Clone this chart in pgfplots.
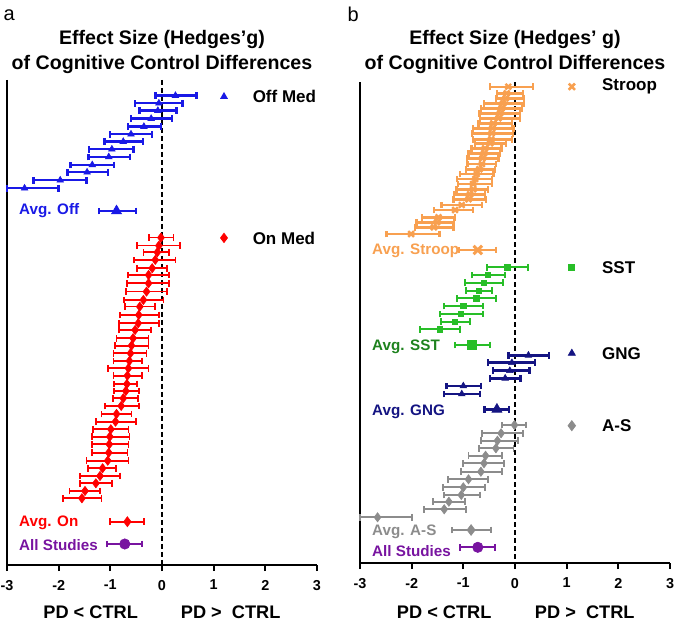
\documentclass[border=0pt]{standalone}
\usepackage{fontspec}
\setmainfont{Liberation Sans}
\usepackage{pgfplots}
\usepackage{pgfplotstable}
\pgfplotsset{compat=1.18}

\definecolor{offblue}{RGB}{25,25,230}
\definecolor{onred}{RGB}{255,0,0}
\definecolor{allpurple}{RGB}{120,20,160}
\definecolor{stroopor}{RGB}{248,160,80}
\definecolor{sstgreen}{RGB}{40,190,40}
\definecolor{sstdark}{RGB}{30,130,30}
\definecolor{gngnavy}{RGB}{20,20,130}
\definecolor{asgrey}{RGB}{140,140,140}

% g = effect size, lo/hi = CI, y = row position (px from top)
\pgfplotstableread{
g lo hi y
0.26 -0.13 0.67 95.7
-0.06 -0.52 0.40 103.3
-0.08 -0.44 0.28 110.7
-0.21 -0.60 0.19 118.7
-0.35 -0.66 -0.02 126.7
-0.60 -1.01 -0.19 134.3
-0.75 -1.11 -0.37 141.7
-0.97 -1.41 -0.55 149.3
-1.03 -1.42 -0.62 157
-1.35 -1.77 -0.93 165
-1.45 -1.83 -1.05 172.3
-1.97 -2.49 -1.46 180.3
-2.66 -3.00 -2.00 188.3
}\offmed
\pgfplotstableread{
g lo hi y
-0.02 -0.25 0.22 237.7
-0.06 -0.49 0.35 245.7
-0.09 -0.36 0.14 252.3
-0.13 -0.54 0.26 260
-0.19 -0.49 0.10 268.3
-0.26 -0.66 0.14 275
-0.26 -0.68 0.14 283.3
-0.30 -0.70 0.10 291.7
-0.36 -0.73 0.03 300
-0.43 -0.71 -0.14 306.7
-0.45 -0.81 -0.06 315
-0.46 -0.83 -0.06 323.3
-0.52 -0.83 -0.21 330
-0.56 -0.88 -0.26 338.3
-0.59 -0.91 -0.26 345.7
-0.61 -0.94 -0.30 353.3
-0.63 -0.94 -0.39 361
-0.65 -1.04 -0.26 368.3
-0.67 -0.94 -0.39 375.7
-0.68 -0.93 -0.49 384
-0.70 -0.93 -0.45 391
-0.75 -0.95 -0.47 398.3
-0.79 -1.10 -0.44 406
-0.88 -1.17 -0.59 414
-0.90 -1.28 -0.51 421.7
-0.99 -1.34 -0.65 429.3
-1.01 -1.36 -0.63 436.7
-1.02 -1.36 -0.65 444.3
-1.03 -1.36 -0.67 452.7
-1.05 -1.46 -0.65 460.7
-1.15 -1.43 -0.89 468.3
-1.20 -1.59 -0.81 476
-1.28 -1.59 -0.97 483.3
-1.49 -1.79 -1.20 491
-1.55 -1.91 -1.17 498.3
}\onmed
\pgfplotstableread{
g lo hi y
-0.13 -0.48 0.35 86.7
-0.16 -0.35 0.16 93.3
-0.18 -0.37 0.17 98.3
-0.23 -0.60 0.17 103.3
-0.26 -0.66 0.13 108.3
-0.29 -0.70 0.10 113.3
-0.32 -0.68 0.10 118.3
-0.42 -0.71 -0.06 123.3
-0.44 -0.81 -0.03 128.3
-0.45 -0.83 -0.04 133.3
-0.46 -0.81 -0.06 139.3
-0.48 -0.77 -0.17 143.3
-0.58 -0.84 -0.26 148.3
-0.60 -0.90 -0.29 153.3
-0.63 -0.93 -0.32 158.3
-0.64 -0.92 -0.37 164
-0.69 -0.95 -0.39 169.3
-0.74 -1.06 -0.42 174
-0.77 -1.12 -0.45 179
-0.81 -1.10 -0.45 184
-0.81 -1.13 -0.52 189.3
-0.87 -1.18 -0.58 194.3
-0.90 -1.19 -0.56 199.3
-1.03 -1.42 -0.64 205
-1.16 -1.57 -0.81 210
-1.48 -1.80 -1.16 217.3
-1.51 -1.91 -1.18 222.3
-1.57 -1.93 -1.19 227.3
-2.01 -2.49 -1.46 234
}\stroop
\pgfplotstableread{
g lo hi y
-0.15 -0.55 0.26 267.3
-0.53 -0.84 -0.19 275
-0.60 -0.96 -0.24 282.7
-0.70 -0.95 -0.45 290.7
-0.75 -1.12 -0.37 298.3
-1.00 -1.37 -0.62 306
-1.05 -1.46 -0.62 314
-1.16 -1.44 -0.88 321.7
-1.46 -1.84 -1.06 329.3
}\sst
\pgfplotstableread{
g lo hi y
0.26 -0.13 0.66 355.3
-0.06 -0.52 0.39 362.7
-0.10 -0.43 0.28 370.7
-0.19 -0.48 0.11 378.3
-1.00 -1.33 -0.66 386
-1.03 -1.37 -0.68 394
}\gng
\pgfplotstableread{
g lo hi y
-0.01 -0.25 0.21 425
-0.27 -0.64 0.15 433.3
-0.34 -0.66 0.05 440.7
-0.37 -0.70 -0.03 448.3
-0.57 -0.90 -0.26 455.7
-0.60 -1.00 -0.21 463.3
-0.66 -1.04 -0.26 471.7
-0.90 -1.29 -0.52 479.3
-1.00 -1.39 -0.58 487.3
-1.04 -1.37 -0.68 495
-1.28 -1.59 -0.97 501.7
-1.37 -1.77 -0.95 509.3
-2.66 -3.00 -1.99 517.3
}\antisac

\pgfplotsset{
  forest/.style={
    scale only axis, width=155pt, xmin=-3, xmax=3, y dir=reverse,
    clip=false, axis x line=bottom, axis y line=left,
    axis line style={-, line width=1pt},
    ytick=\empty, xtick={-3,...,3},
    tick align=outside, major tick length=3pt,
    tick style={black, line width=1pt},
    xticklabel style={font=\bfseries\fontsize{7.2}{8}\selectfont, yshift=-1pt},
    /pgf/number format/assume math mode=true,
  },
  ci/.style n args={3}{only marks, mark=#1, color=#2, line width=#3,
    mark options={solid, fill=#2, draw=#2, line width=0.3pt},
    error bars/x dir=both, error bars/x explicit,
    error bars/error mark=|,
    error bars/error bar style={line width=#3, draw=#2, solid},
    error bars/error mark options={line width=#3, draw=#2, solid, mark size=1.7pt}},
  zero/.style={black, line width=1pt, dash pattern=on 2.5pt off 1.5pt, no marks},
  table/ctab/.style={x=g, y=y,
    x error plus expr={\thisrow{hi}-\thisrow{g}},
    x error minus expr={\thisrow{g}-\thisrow{lo}}},
}
\tikzset{
  lab/.style={anchor=west, font=\bfseries\fontsize{7.6}{9}\selectfont},
  leg/.style={anchor=west, font=\bfseries\fontsize{8.5}{10}\selectfont},
  ttl/.style={align=center, font=\bfseries\fontsize{9.8}{12.4}\selectfont},
  xl/.style={font=\bfseries\fontsize{9.1}{11}\selectfont},
}

\begin{document}
\begin{tikzpicture}
\useasboundingbox (0,0) rectangle (337.5pt,310.5pt);

% ---------- panel a ----------
\begin{axis}[forest, at={(3.5pt,28pt)}, anchor=south west,
  height=242.5pt, ymin=80, ymax=565]
\addplot[zero] coordinates {(0,80) (0,565)};
\addplot[ci={triangle*}{offblue}{1.25pt}, mark size=1.9pt] table[ctab] {\offmed};
\addplot[ci={triangle*}{offblue}{1.25pt}, mark size=2.9pt] table[ctab] {
g lo hi y
-0.88 -1.22 -0.50 211
};
\addplot[ci={diamond*}{onred}{0.85pt}, mark size=2.3pt] table[ctab] {\onmed};
\addplot[ci={diamond*}{onred}{0.95pt}, mark size=2.5pt] table[ctab] {
g lo hi y
-0.67 -1.01 -0.34 521.7
};
\addplot[ci={*}{allpurple}{0.95pt}, mark size=2.6pt] table[ctab] {
g lo hi y
-0.72 -1.06 -0.39 544
};
% legend markers
\addplot[only marks, mark=triangle*, offblue, mark size=1.9pt] coordinates {(1.20,96.7)};
\addplot[only marks, mark=diamond*, onred, mark size=2.3pt] coordinates {(1.20,238)};
\node[leg] at (axis cs:1.62,96.7) {Off Med};
\node[leg] at (axis cs:1.62,238) {On Med};
\node[lab, offblue] at (axis cs:-2.90,211) {Avg. Off};
\node[lab, onred] at (axis cs:-2.90,523) {Avg. On};
\node[lab, allpurple] at (axis cs:-2.90,545) {All Studies};
\node[ttl] at (axis cs:0,52) {Effect Size (Hedges\textquoteright g)\\of Cognitive Control Differences};
\node[font=\fontsize{10}{12}\selectfont] at (axis cs:-2.96,15) {a};
\node[xl] at (axis cs:-1.38,612) {PD < CTRL};
\node[xl] at (axis cs:1.33,612) {PD >\ \ CTRL};
\end{axis}

% ---------- panel b ----------
\begin{axis}[forest, at={(180pt,29pt)}, anchor=south west,
  height=240.5pt, ymin=82, ymax=563]
\addplot[zero] coordinates {(0,82) (0,563)};
\addplot[ci={x}{stroopor}{1.2pt}, mark size=2pt, mark options={line width=1.2pt}] table[ctab] {\stroop};
\addplot[ci={x}{stroopor}{1.2pt}, mark size=3pt, mark options={line width=1.5pt}] table[ctab] {
g lo hi y
-0.72 -1.08 -0.37 250
};
\addplot[ci={square*}{sstgreen}{1pt}, mark size=1.3pt] table[ctab] {\sst};
\addplot[ci={square*}{sstgreen}{1.1pt}, mark size=2.2pt] table[ctab] {
g lo hi y
-0.84 -1.16 -0.48 345
};
\addplot[ci={triangle*}{gngnavy}{1.25pt}, mark size=1.9pt] table[ctab] {\gng};
\addplot[ci={triangle*}{gngnavy}{1.25pt}, mark size=2.9pt] table[ctab] {
g lo hi y
-0.35 -0.59 -0.12 409.3
};
\addplot[ci={diamond*}{asgrey}{0.95pt}, mark size=2.3pt] table[ctab] {\antisac};
\addplot[ci={diamond*}{asgrey}{0.95pt}, mark size=2.7pt] table[ctab] {
g lo hi y
-0.85 -1.22 -0.46 530
};
\addplot[ci={*}{allpurple}{0.95pt}, mark size=2.6pt] table[ctab] {
g lo hi y
-0.72 -1.06 -0.39 547.3
};
% legend markers
\addplot[only marks, mark=x, stroopor, mark size=2.2pt, mark options={line width=1.3pt}] coordinates {(1.10,86.7)};
\addplot[only marks, mark=square*, sstgreen, mark size=1.5pt] coordinates {(1.10,267.7)};
\addplot[only marks, mark=triangle*, gngnavy, mark size=2pt] coordinates {(1.10,353.3)};
\addplot[only marks, mark=diamond*, asgrey, mark size=2.5pt] coordinates {(1.10,425.7)};
\node[leg] at (axis cs:1.55,86.7) {Stroop};
\node[leg] at (axis cs:1.55,267.7) {SST};
\node[leg] at (axis cs:1.55,353.3) {GNG};
\node[leg] at (axis cs:1.55,425.7) {A-S};
\node[lab, stroopor] at (axis cs:-2.90,250.7) {Avg. Stroop};
\node[lab, sstdark] at (axis cs:-2.90,346.7) {Avg. SST};
\node[lab, gngnavy] at (axis cs:-2.90,411.7) {Avg. GNG};
\node[lab, asgrey] at (axis cs:-2.90,531.7) {Avg. A-S};
\node[lab, allpurple] at (axis cs:-2.90,550.7) {All Studies};
\node[ttl] at (axis cs:0,52) {Effect Size (Hedges\textquoteright\ g)\\of Cognitive Control Differences};
\node[font=\fontsize{10}{12}\selectfont] at (axis cs:-3.13,14) {b};
\node[xl] at (axis cs:-1.37,612) {PD < CTRL};
\node[xl] at (axis cs:1.35,612) {PD >\ \ CTRL};
\end{axis}
\end{tikzpicture}
\end{document}
